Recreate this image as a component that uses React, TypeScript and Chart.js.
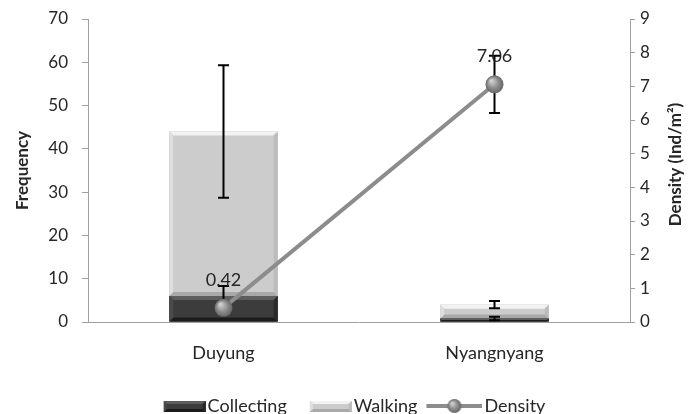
import React, { useEffect, useRef } from 'react';
import { Chart, registerables } from 'chart.js';

Chart.register(...registerables);

const categories = ['Duyung', 'Nyangnyang'];
const collectingValues = [6, 0.8];
const walkingValues = [38, 3.2];
const densityValues = [0.42, 7.06];
const collectingErrors = [2.3, 0.4];
const walkingErrors = [15.3, 0.85];
const densityErrors = [0, 0.85];
const densityLabels = ['0.42', '7.06'];
const frequencyMax = 70;
const frequencyStep = 10;
const densityMax = 9;
const densityStep = 1;

const FONT = 'Lato, "Open Sans", sans-serif';
const TEXT = '#262626';
const AXIS = '#a0a0a0';

type Bevel = { light: string; dark: string; left: string; right: string };
const collectingBevel: Bevel = { light: '#5e5e5e', dark: '#1c1c1c', left: '#4a4a4a', right: '#2a2a2a' };
const walkingBevel: Bevel = { light: '#f2f2f2', dark: '#a9a9a9', left: '#dedede', right: '#bcbcbc' };

function drawBevelRect(ctx: CanvasRenderingContext2D, left: number, top: number, right: number, bottom: number, fill: string, bv: Bevel, size: number) {
  const b = Math.max(0, Math.min(size, (bottom - top) / 2, (right - left) / 2));
  ctx.fillStyle = fill;
  ctx.fillRect(left, top, right - left, bottom - top);
  const poly = (pts: number[][], c: string) => {
    ctx.beginPath();
    ctx.moveTo(pts[0][0], pts[0][1]);
    for (let i = 1; i < pts.length; i++) ctx.lineTo(pts[i][0], pts[i][1]);
    ctx.closePath();
    ctx.fillStyle = c;
    ctx.fill();
  };
  poly([[left, top], [right, top], [right - b, top + b], [left + b, top + b]], bv.light);
  poly([[left, bottom], [right, bottom], [right - b, bottom - b], [left + b, bottom - b]], bv.dark);
  poly([[left, top], [left + b, top + b], [left + b, bottom - b], [left, bottom]], bv.left);
  poly([[right, top], [right - b, top + b], [right - b, bottom - b], [right, bottom]], bv.right);
}

function makeBoxIcon(fill: string, bv: Bevel) {
  const c = document.createElement('canvas');
  c.width = 70;
  c.height = 14;
  const ctx = c.getContext('2d')!;
  drawBevelRect(ctx, 28, 2, 70, 13, fill, bv, 3);
  return c;
}

function sphereGradient(ctx: CanvasRenderingContext2D, x: number, y: number, r: number) {
  const g = ctx.createRadialGradient(x - r * 0.35, y - r * 0.4, r * 0.1, x, y, r);
  g.addColorStop(0, '#d0d0d0');
  g.addColorStop(0.55, '#8e8e8e');
  g.addColorStop(1, '#666666');
  return g;
}

function makeLineIcon() {
  const c = document.createElement('canvas');
  c.width = 70;
  c.height = 18;
  const ctx = c.getContext('2d')!;
  ctx.strokeStyle = '#8c8c8c';
  ctx.lineWidth = 4;
  ctx.beginPath();
  ctx.moveTo(14, 9);
  ctx.lineTo(70, 9);
  ctx.stroke();
  ctx.beginPath();
  ctx.arc(42, 9, 7, 0, Math.PI * 2);
  ctx.fillStyle = sphereGradient(ctx, 42, 9, 7);
  ctx.fill();
  return c;
}

const bevelPlugin = {
  id: 'bevel',
  afterDatasetDraw(chart: any, args: any) {
    const meta = args.meta;
    if (meta.type !== 'bar') return;
    const ds: any = chart.data.datasets[args.index];
    const ctx = chart.ctx;
    ctx.save();
    meta.data.forEach((el: any) => {
      const p = el.getProps(['x', 'y', 'base', 'width'], true);
      const left = p.x - p.width / 2;
      const right = p.x + p.width / 2;
      const top = Math.min(p.y, p.base);
      const bottom = Math.max(p.y, p.base);
      drawBevelRect(ctx, left, top, right, bottom, ds.backgroundColor, ds.bevel, 4);
    });
    ctx.restore();
  },
};

const errorBarPlugin = {
  id: 'errorBars',
  beforeDatasetDraw(chart: any, args: any) {
    if (args.meta.type !== 'line') return;
    const ctx = chart.ctx;
    const xs = chart.scales.x;
    const ys = chart.scales.y;
    const y1 = chart.scales.y1;
    const area = chart.chartArea;
    ctx.save();
    ctx.beginPath();
    ctx.rect(area.left, area.top - 2, area.right - area.left, area.bottom - area.top + 2);
    ctx.clip();
    ctx.strokeStyle = '#000000';
    ctx.lineWidth = 2;
    const cap = 5.5;
    const bar = (x: number, yTop: number, yBot: number) => {
      ctx.beginPath();
      ctx.moveTo(x, yTop);
      ctx.lineTo(x, yBot);
      ctx.moveTo(x - cap, yTop);
      ctx.lineTo(x + cap, yTop);
      ctx.moveTo(x - cap, yBot);
      ctx.lineTo(x + cap, yBot);
      ctx.stroke();
    };
    categories.forEach((_, i) => {
      const x = xs.getPixelForValue(i);
      const c = collectingValues[i];
      if (collectingErrors[i] > 0) bar(x, ys.getPixelForValue(c + collectingErrors[i]), ys.getPixelForValue(c - collectingErrors[i]));
      const t = collectingValues[i] + walkingValues[i];
      if (walkingErrors[i] > 0) bar(x, ys.getPixelForValue(t + walkingErrors[i]), ys.getPixelForValue(t - walkingErrors[i]));
      const d = densityValues[i];
      if (densityErrors[i] > 0) bar(x, y1.getPixelForValue(d + densityErrors[i]), y1.getPixelForValue(d - densityErrors[i]));
    });
    ctx.restore();
  },
};

const labelsPlugin = {
  id: 'densityLabels',
  afterDatasetsDraw(chart: any) {
    const ctx = chart.ctx;
    chart.data.datasets.forEach((ds: any, idx: number) => {
      if (ds.type !== 'line') return;
      const meta = chart.getDatasetMeta(idx);
      ctx.save();
      ctx.font = `18px ${FONT}`;
      ctx.fillStyle = TEXT;
      ctx.textAlign = 'center';
      ctx.textBaseline = 'middle';
      meta.data.forEach((el: any, i: number) => {
        ctx.fillText(densityLabels[i], el.x, el.y - 28);
      });
      ctx.restore();
    });
  },
};

const rightTitlePlugin = {
  id: 'rightTitle',
  afterDraw(chart: any) {
    const ctx = chart.ctx;
    const s = chart.scales.y1;
    ctx.save();
    ctx.translate(s.right - 12, (chart.chartArea.top + chart.chartArea.bottom) / 2 - 6);
    ctx.rotate(-Math.PI / 2);
    ctx.font = `bold 17px ${FONT}`;
    ctx.fillStyle = TEXT;
    ctx.textAlign = 'center';
    ctx.textBaseline = 'middle';
    ctx.fillText('Density (Ind/m²)', 0, 0);
    ctx.restore();
  },
};

export default function App() {
  const ref = useRef<HTMLCanvasElement>(null);
  useEffect(() => {
    const canvas = ref.current;
    if (!canvas) return;
    const icons = [
      makeBoxIcon('#3c3c3c', collectingBevel),
      makeBoxIcon('#cccccc', walkingBevel),
      makeLineIcon(),
    ];
    const chart = new Chart(canvas, {
      type: 'bar',
      data: {
        labels: categories,
        datasets: [
          {
            type: 'line',
            label: 'Density',
            data: densityValues,
            yAxisID: 'y1',
            order: 0,
            borderColor: '#8c8c8c',
            borderWidth: 4,
            pointRadius: 9,
            pointHoverRadius: 9,
            pointBorderWidth: 0,
            pointBorderColor: 'rgba(0,0,0,0)',
            pointBackgroundColor: (c: any) => {
              const ch = c.chart;
              const xs = ch.scales.x;
              const ys = ch.scales.y1;
              if (!xs || !ys || c.dataIndex === undefined) return '#8c8c8c';
              const px = xs.getPixelForValue(c.dataIndex);
              const py = ys.getPixelForValue(densityValues[c.dataIndex]);
              if (!isFinite(px) || !isFinite(py)) return '#8c8c8c';
              return sphereGradient(ch.ctx, px, py, 9);
            },
          } as any,
          {
            label: 'Collecting',
            data: collectingValues,
            yAxisID: 'y',
            order: 1,
            backgroundColor: '#3c3c3c',
            borderWidth: 0,
            barPercentage: 0.4,
            categoryPercentage: 1,
            bevel: collectingBevel,
          } as any,
          {
            label: 'Walking',
            data: walkingValues,
            yAxisID: 'y',
            order: 2,
            backgroundColor: '#cccccc',
            borderWidth: 0,
            barPercentage: 0.4,
            categoryPercentage: 1,
            bevel: walkingBevel,
          } as any,
        ],
      },
      options: {
        responsive: false,
        animation: false,
        events: [],
        font: { family: FONT },
        layout: { padding: { top: 19, right: 0, bottom: -11, left: 0 } },
        plugins: {
          tooltip: { enabled: false },
          legend: {
            display: true,
            position: 'bottom',
            labels: {
              usePointStyle: true,
              pointStyleWidth: 56,
              padding: 2,
              color: TEXT,
              font: { size: 18, family: FONT },
              generateLabels: () =>
                ['Collecting', 'Walking', 'Density'].map((text, i) => ({
                  text,
                  pointStyle: icons[i],
                  fillStyle: 'rgba(0,0,0,0)',
                  strokeStyle: 'rgba(0,0,0,0)',
                  lineWidth: 0,
                  hidden: false,
                  datasetIndex: [1, 2, 0][i],
                  fontColor: TEXT,
                })) as any,
            },
          },
        },
        scales: {
          x: {
            stacked: true,
            grid: { display: false, drawTicks: false },
            border: { display: true, color: AXIS, width: 1 },
            ticks: { padding: 20, color: TEXT, font: { size: 18, family: FONT } },
            afterFit: (s: any) => {
              s.height = 73;
            },
          },
          y: {
            stacked: true,
            position: 'left',
            min: 0,
            max: frequencyMax,
            ticks: { stepSize: frequencyStep, padding: 14, color: TEXT, font: { size: 17, family: FONT } },
            grid: { drawOnChartArea: false, drawTicks: true, tickLength: 6, color: AXIS },
            border: { display: true, color: AXIS },
            title: {
              display: true,
              text: 'Frequency',
              color: TEXT,
              font: { size: 17, weight: 'bold', family: FONT },
              padding: { top: 12, bottom: 0 },
            },
            afterFit: (s: any) => {
              s.width = 88;
              s.paddingTop = 0;
              s.paddingBottom = 0;
            },
          },
          y1: {
            position: 'right',
            stacked: false,
            min: 0,
            max: densityMax,
            ticks: { stepSize: densityStep, padding: 5, color: TEXT, font: { size: 17, family: FONT } },
            grid: { drawOnChartArea: false, drawTicks: true, tickLength: 5, color: AXIS },
            border: { display: true, color: AXIS },
            afterFit: (s: any) => {
              s.width = 58;
              s.paddingTop = 0;
              s.paddingBottom = 0;
            },
          },
        },
      } as any,
      plugins: [bevelPlugin, errorBarPlugin, labelsPlugin, rightTitlePlugin],
    });
    return () => chart.destroy();
  }, []);
  return (
    <div style={{ position: 'absolute', left: 0, top: 0, width: 688, height: 414 }}>
      <canvas ref={ref} width={688} height={414} style={{ display: 'block' }} />
    </div>
  );
}
